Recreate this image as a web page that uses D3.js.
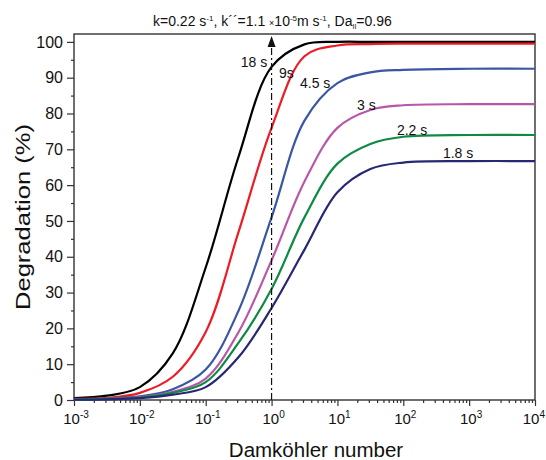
<!DOCTYPE html>
<html>
<head>
<meta charset="utf-8">
<script src="https://cdn.jsdelivr.net/npm/d3@7"></script>
<style>
  body { margin: 0; background: #fff; }
  text { font-family: Arial, "Liberation Sans", sans-serif; fill: #111; }
</style>
</head>
<body>
<div id="chart"></div>
<script>
// Damkohler number values where curves were read (half-decade steps)
const damkohler = [0.001, 0.00316, 0.01, 0.0316, 0.1, 0.316, 1, 3.16, 10, 31.6, 100, 1000, 10000];

const deg18 = [0.5, 1.2, 3.6, 13, 37, 68, 93, 99.3, 100, 100, 100, 100, 100];
const deg9 = [0.3, 0.6, 2, 6.5, 19, 47, 76, 96, 99, 99.4, 99.5, 99.5, 99.5];
const deg45 = [0.2, 0.4, 1, 3, 8.5, 25, 51, 78, 88.5, 91.5, 92.2, 92.5, 92.5];
const deg3 = [0.15, 0.3, 0.8, 2.3, 6, 19, 39, 61, 76, 81, 82.3, 82.6, 82.6];
const deg22 = [0.1, 0.3, 0.7, 2, 5, 16, 31, 51, 66, 71.5, 73.5, 74, 74];
const deg18s = [0.1, 0.2, 0.5, 1.5, 3.6, 12, 25.7, 42, 58, 64.5, 66.3, 66.7, 66.7];

const seriesNames = ["18 s", "9s", "4.5 s", "3 s", "2.2 s", "1.8 s"];
const seriesValues = [deg18, deg9, deg45, deg3, deg22, deg18s];
const seriesColors = ["#000000", "#ed1c24", "#3a56a5", "#b856a8", "#0f8a45", "#272874"];
// label anchor points (in data units)
const labelX = [0.34, 1.3, 2.7, 19.8, 80, 400];
const labelY = [93, 90, 87, 81, 74, 67.6];

const yTicks = [0, 10, 20, 30, 40, 50, 60, 70, 80, 90, 100];
const xTicks = [-3, -2, -1, 0, 1, 2, 3, 4];

const W = 546, H = 460;
const svg = d3.select("#chart").append("svg")
  .attr("width", W).attr("height", H);

const x = d3.scaleLog().domain([1e-3, 1e4]).range([74, 535]);
const y = d3.scaleLinear().domain([0, 102.2]).range([400, 34]);

// frame
svg.append("rect")
  .attr("x", 74).attr("y", 34)
  .attr("width", 461).attr("height", 366)
  .attr("fill", "none").attr("stroke", "#333").attr("stroke-width", 1.4);

// y axis
let minorY = d3.range(5, 100, 10);
svg.append("g")
  .attr("transform", "translate(74,0)")
  .call(d3.axisLeft(y).tickValues(minorY).tickSize(3).tickFormat(""))
  .call(g => g.select(".domain").remove());
svg.append("g")
  .attr("transform", "translate(74,0)")
  .call(d3.axisLeft(y).tickValues(yTicks).tickSize(7).tickPadding(4))
  .call(g => g.select(".domain").remove())
  .selectAll("text").style("font-size", "16px").attr("fill", "#111");
svg.selectAll(".tick line").attr("stroke", "#333").attr("stroke-width", 1.2);

// x axis
let minorX = [];
for (let e = -3; e < 4; e++) {
  for (let m = 2; m < 10; m++) minorX.push(m * Math.pow(10, e));
}
svg.append("g")
  .attr("transform", "translate(0,400)")
  .call(d3.axisBottom(x).tickValues(minorX).tickSize(3).tickFormat(""))
  .call(g => g.select(".domain").remove())
  .selectAll("line").attr("stroke", "#333").attr("stroke-width", 1.2);
let xg = svg.append("g")
  .attr("transform", "translate(0,400)")
  .call(d3.axisBottom(x).tickValues(xTicks.map(e => Math.pow(10, e))).tickSize(6).tickFormat(""))
  .call(g => g.select(".domain").remove());
xg.selectAll("line").attr("stroke", "#333").attr("stroke-width", 1.2);

xTicks.forEach((e, i) => {
  let last = i === xTicks.length - 1;
  let t = svg.append("text")
    .attr("x", last ? W - 1 : x(Math.pow(10, e)) + 2)
    .attr("y", 424)
    .attr("text-anchor", last ? "end" : "middle")
    .style("font-size", "15px");
  t.append("tspan").text("10");
  t.append("tspan").attr("dy", -6).style("font-size", "10px").text(e);
});

// axis titles
svg.append("text")
  .attr("x", 316).attr("y", 457)
  .attr("text-anchor", "middle")
  .style("font-size", "20.5px")
  .text("Damköhler number");
svg.append("text")
  .attr("transform", "translate(30,217) rotate(-90)")
  .attr("text-anchor", "middle")
  .attr("textLength", 186)
  .attr("lengthAdjust", "spacingAndGlyphs")
  .style("font-size", "21px")
  .text("Degradation (%)");

// title
let title = svg.append("text").attr("x", 153).attr("y", 26).style("font-size", "14px");
title.append("tspan").text("k=0.22 s");
title.append("tspan").attr("dy", -5).style("font-size", "8px").text("-1");
title.append("tspan").attr("dy", 5).text(", k\u00b4\u00b4=1.1 ");
title.append("tspan").style("font-size", "9px").text("\u00d7");
title.append("tspan").text("10");
title.append("tspan").attr("dy", -5).style("font-size", "8px").text("-5");
title.append("tspan").attr("dy", 5).text("m s");
title.append("tspan").attr("dy", -5).style("font-size", "8px").text("-1");
title.append("tspan").attr("dy", 5).text(", Da");
title.append("tspan").attr("dy", 3).style("font-size", "7px").text("II");
title.append("tspan").attr("dy", -3).text("=0.96");

// curves
const line = d3.line()
  .x((d, i) => x(damkohler[i]))
  .y(d => y(d))
  .curve(d3.curveCatmullRom.alpha(0.5));

seriesValues.forEach((vals, i) => {
  svg.append("path")
    .datum(vals)
    .attr("d", line)
    .attr("fill", "none")
    .attr("stroke", seriesColors[i])
    .attr("stroke-width", 2.2);
});

// dash-dot marker line at Da = 1
svg.append("line")
  .attr("x1", x(1)).attr("x2", x(1))
  .attr("y1", y(0)).attr("y2", 46)
  .attr("stroke", "#111").attr("stroke-width", 1.2)
  .attr("stroke-dasharray", "7,3,2,3");
svg.append("path")
  .attr("d", `M${x(1)},36 L${x(1) - 4},47 L${x(1) + 4},47 Z`)
  .attr("fill", "#111");

// curve labels
seriesNames.forEach((n, i) => {
  svg.append("text")
    .attr("x", x(labelX[i]))
    .attr("y", y(labelY[i]))
    .style("font-size", "14px")
    .text(n);
});
</script>
</body>
</html>
